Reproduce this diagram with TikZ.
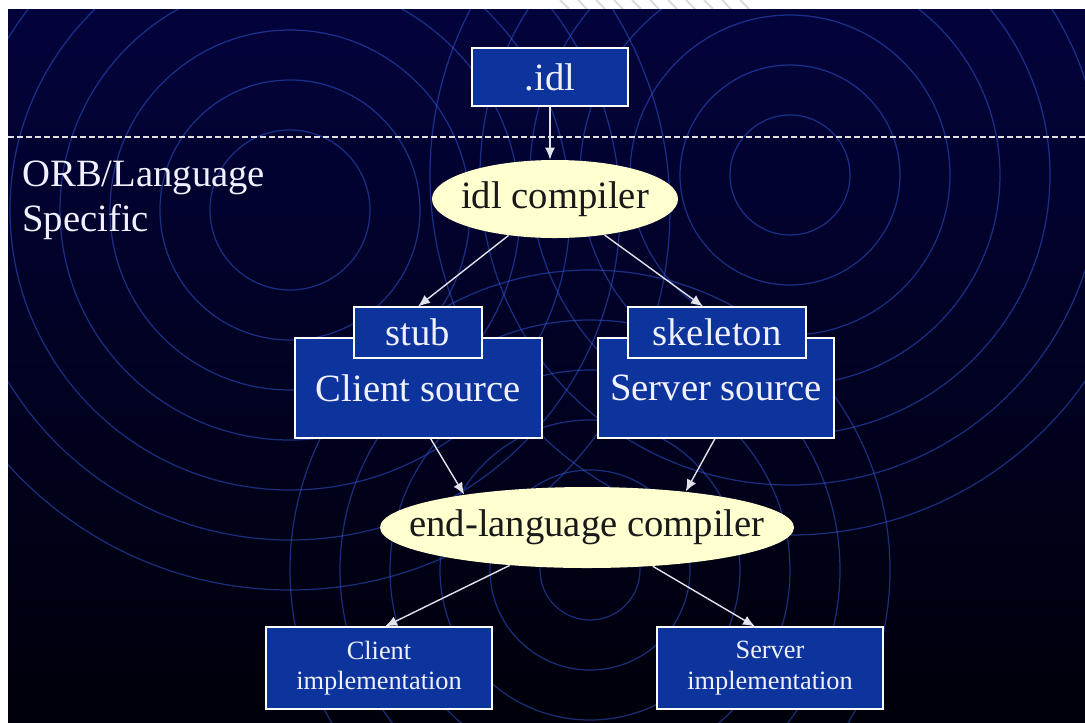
\documentclass[tikz,border=0pt]{standalone}
\usepackage{fontspec}
\setmainfont{Liberation Serif}
\usepackage{xcolor}
\usepackage{tikz}
\usetikzlibrary{shapes.geometric}
\usetikzlibrary{arrows.meta}
\definecolor{Kastenblau}{RGB}{12,52,156}
\definecolor{Ovalgelb}{RGB}{255,255,208}
\definecolor{Kreisblau}{RGB}{45,85,205}
\definecolor{Pfeilgrau}{RGB}{226,226,234}
\tikzset{
  Kasten/.style 2 args={draw=white, line width=0.6pt, fill=Kastenblau,
    text=white!94!blue, inner sep=0pt, minimum width=#1, minimum height=#2,
    font=\fontsize{22}{26}\selectfont}, % für Kästen
  Klein/.style={font=\fontsize{15}{17.2}\selectfont, align=center}, % kleine Schrift
  Oval/.style 2 args={ellipse, fill=Ovalgelb, text=black!90, inner ysep=0pt,
    inner xsep=-10mm, minimum width=#1, minimum height=#2,
    font=\fontsize{22}{26}\selectfont}, % für Compiler
  Pfeil/.style={draw=Pfeilgrau, line width=0.8pt, ->}, % für Pfeile
  Ring/.style={draw=Kreisblau, line width=0.7pt, opacity=0.55} % für Kreise
}

\begin{document}
\begin{tikzpicture}[x=0.2mm, y=-0.2mm,
>={Latex[length=2.4mm,width=2mm]} % Voreinstellung für Pfeilspitzen
]
\useasboundingbox (0,0) rectangle (1085,722);

%Hintergrund
\fill[white] (0,0) rectangle (1085,722);
\foreach \x in {560,578,...,740}
  \draw[black!14, line width=1.2pt] (\x,0) -- (\x+9,9);
\shade[top color={rgb,255:red,3;green,3;blue,60},
  middle color={rgb,255:red,15;green,18;blue,128},
  bottom color={rgb,255:red,0;green,0;blue,10}] (8,9) rectangle (1085,722);

%Kreise
\begin{scope}
\clip (8,9) rectangle (1085,722);
\foreach \r in {80,130,...,380}
  \draw[Ring] (290,210) circle (\r);
\foreach \r in {60,110,...,360}
  \draw[Ring] (790,175) circle (\r);
\foreach \r in {50,100,...,300}
  \draw[Ring] (590,570) circle (\r);
\end{scope}

%Trennlinie
\draw[white!75!gray, line width=0.6pt, dash pattern=on 1.2mm off 0.6mm] (8,137) -- (1085,137);
\node[anchor=north west, inner sep=0pt, align=left, text=white!94!blue,
  font=\fontsize{22}{25.6}\selectfont] (orb) at (22,161) {ORB/Language\\Specific};

%Knoten
\node[Kasten={31.2mm}{11.6mm}] (idl) at (550,77) {.idl};
\node[Oval={49.2mm}{15.6mm}] (idlc) at (555,199) {idl compiler};
\node[Kasten={49.4mm}{20mm}] (csrc) at (418.5,388) {Client source};
\node[Kasten={25.6mm}{10.2mm}] (stub) at (418,332.5) {stub};
\node[Kasten={47.2mm}{20mm}] (ssrc) at (716,388) {Server source};
\node[Kasten={35.6mm}{10.2mm}] (skel) at (717,332.5) {skeleton};
\node[Oval={82.8mm}{16.2mm}] (elc) at (587,527.5) {end-language compiler};
\node[Kasten={45.2mm}{16.4mm}, Klein] (cimpl) at (379,668) {Client\\implementation};
\node[Kasten={45.2mm}{16.4mm}, Klein] (simpl) at (770,668) {Server\\implementation};

%Pfeile
\draw[Pfeil] (idl) -- (idl |- idlc.north);
\draw[Pfeil] (idlc) -- (stub.north);
\draw[Pfeil] (idlc) -- ([xshift=-2.8mm]skel.north);
\draw[Pfeil] ([xshift=2.4mm]csrc.south) -- (elc.165);
\draw[Pfeil] ([xshift=-0.2mm]ssrc.south) -- (elc.20);
\draw[Pfeil] (elc) -- ([xshift=1.2mm]cimpl.north);
\draw[Pfeil] (elc) -- ([xshift=-3mm]simpl.north);

\end{tikzpicture}
\end{document}
